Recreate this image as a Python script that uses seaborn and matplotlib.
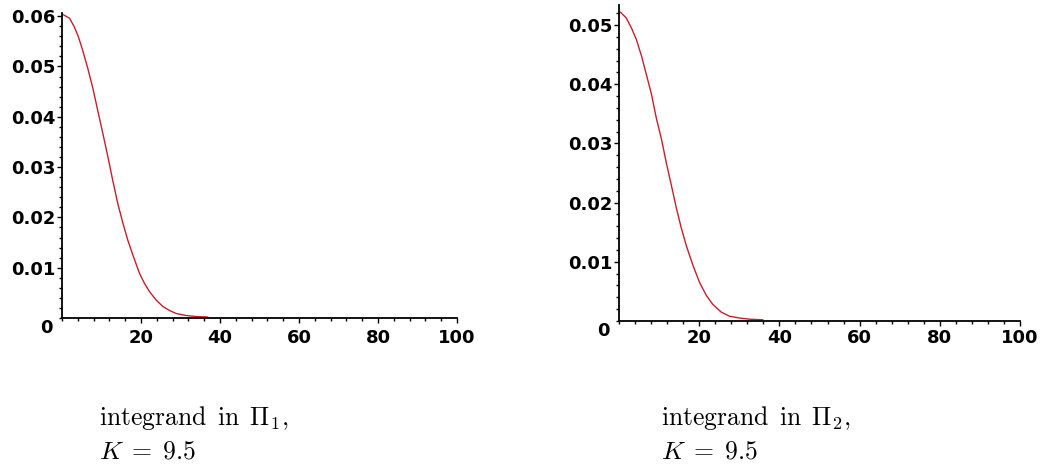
import numpy as np
import pandas as pd
import matplotlib
matplotlib.use("Agg")
import matplotlib.pyplot as plt
from matplotlib.ticker import MultipleLocator, FixedLocator
import seaborn as sns

# values
x_pi1 = [0.3, 1.9, 3.1, 4.1, 5.2, 6.5, 7.8, 9.0, 10.3, 11.6, 12.8, 14.1, 15.4, 16.6,
         17.9, 19.6, 20.8, 22.1, 23.8, 25.5, 27.2, 28.9, 31.4, 33.9, 36.9]
y_pi1 = [0.0603, 0.0596, 0.0579, 0.0560, 0.0533, 0.0497, 0.0457, 0.0414, 0.0368, 0.0321,
         0.0275, 0.0228, 0.0189, 0.0156, 0.0126, 0.0089, 0.0070, 0.0053, 0.0036, 0.0023,
         0.0015, 0.0009, 0.0005, 0.0003, 0.0002]

x_pi2 = [0.3, 1.8, 3.1, 4.3, 5.6, 6.8, 8.1, 9.3, 10.6, 11.8, 13.1, 14.3, 15.5, 16.8,
         18.5, 20.1, 21.8, 23.4, 25.5, 27.6, 30.1, 32.6, 35.9]
y_pi2 = [0.0522, 0.0512, 0.0495, 0.0476, 0.0448, 0.0417, 0.0383, 0.0343, 0.0307, 0.0267,
         0.0228, 0.0191, 0.0158, 0.0127, 0.0093, 0.0065, 0.0043, 0.0028, 0.0015, 0.0008,
         0.0005, 0.0003, 0.0002]

x_ticks = [20, 40, 60, 80, 100]
y_ticks_pi1 = [0.01, 0.02, 0.03, 0.04, 0.05, 0.06]
y_ticks_pi2 = [0.01, 0.02, 0.03, 0.04, 0.05]
captions = [r"$\mathrm{integrand\ \,in\ \,}\Pi_1,$", r"$\mathrm{integrand\ \,in\ \,}\Pi_2,$"]
k_label = r"$K\;=\;9.5$"

sns.set_style("white")
plt.rcParams["font.family"] = ["DejaVu Sans"]
plt.rcParams["mathtext.fontset"] = "cm"
plt.rcParams["text.color"] = "black"
plt.rcParams["xtick.color"] = "black"
plt.rcParams["ytick.color"] = "black"

tick_font = {"family": ["DejaVu Sans"], "weight": "bold", "size": 13, "color": "black"}
line_color = "#c81e2c"

fig = plt.figure(figsize=(10.44, 4.65), dpi=100)
ax1 = fig.add_axes([0.0594, 0.3161, 0.3784, 0.656])
ax2 = fig.add_axes([0.5929, 0.3097, 0.3841, 0.6796])


def draw_panel(ax, xs, ys, yticks, ytop, xpad):
    df = pd.DataFrame({"x": xs, "y": ys})
    sns.lineplot(data=df, x="x", y="y", ax=ax, color=line_color, linewidth=1.0)
    ax.set_xlim(0, 100)
    ax.set_ylim(0, ytop)
    ax.set_xlabel("")
    ax.set_ylabel("")
    for s in ["top", "right"]:
        ax.spines[s].set_visible(False)
    for s in ["left", "bottom"]:
        ax.spines[s].set_color("black")
        ax.spines[s].set_linewidth(1.3)
    ax.xaxis.set_major_locator(FixedLocator(x_ticks))
    ax.xaxis.set_minor_locator(MultipleLocator(4))
    ax.yaxis.set_major_locator(FixedLocator(yticks))
    ax.yaxis.set_minor_locator(MultipleLocator(0.002))
    ax.set_xticklabels([str(t) for t in x_ticks], fontdict=tick_font)
    ax.set_yticklabels([f"{t:.2f}" for t in yticks], fontdict=tick_font)
    ax.tick_params(which="both", bottom=True, left=True, direction="out", width=1, color="black")
    ax.tick_params(which="major", length=3.5)
    ax.tick_params(which="minor", length=2.5)
    ax.tick_params(axis="y", which="major", pad=1.5)
    ax.tick_params(axis="x", which="major", pad=xpad)
    ax.annotate("0", xy=(0, 0), xytext=(-7, -7), textcoords="offset points",
                ha="right", va="center", fontsize=13, fontweight="bold", color="black")


draw_panel(ax1, x_pi1, y_pi1, y_ticks_pi1, 0.06064, 4.5)
draw_panel(ax2, x_pi2, y_pi2, y_ticks_pi2, 0.05338, 2.5)

for xpos, cap in zip([99 / 1044, 661 / 1044], captions):
    fig.text(xpos, 1 - 425 / 465, cap, fontsize=18.5, va="baseline", ha="left", color="black")
    fig.text(xpos, 1 - 458 / 465, k_label, fontsize=18.5, va="baseline", ha="left", color="black")

fig.savefig("out.png", dpi=100)
